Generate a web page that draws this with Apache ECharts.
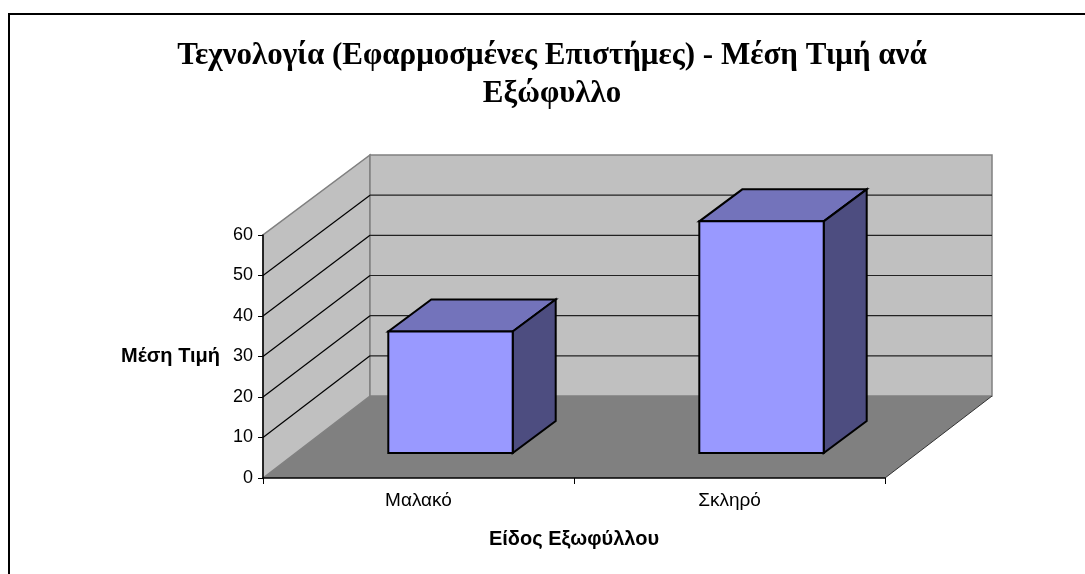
<!DOCTYPE html>
<html>
<head>
<meta charset="utf-8">
<title>Μέση Τιμή ανά Εξώφυλλο</title>
<script src="https://cdn.jsdelivr.net/npm/echarts@6/dist/echarts.min.js"></script>
<style>
  html, body { margin: 0; padding: 0; background: #fff; }
  #chart { width: 1085px; height: 574px; }
</style>
</head>
<body>
<div id="chart"></div>
<script>
// Data
const categories = ["Μαλακό", "Σκληρό"];
const avgPrice = [30, 57.2];
const yTicks = [10, 20, 30, 40, 50];
const chartTitle = "Τεχνολογία (Εφαρμοσμένες Επιστήμες) - Μέση Τιμή ανά\nΕξώφυλλο";
const yName = "Μέση Τιμή";
const xName = "Είδος Εξωφύλλου";

// Fake 3D box depth, in pixels
const wall_dx = 107;
const wall_dy_bottom = 82;
const wall_dy_top = 80;
const y_max = 60;
const bar_off_dx = 32;
const bar_off_dy = 25;
const bar_dx = 43;
const bar_dy = 32;

const c_wall = "#c0c0c0";
const c_floor = "#808080";
const c_front = "#9999ff";
const c_top = "#7373bb";
const c_side = "#4d4d80";

function poly(points, fill, stroke, width) {
  return {
    type: "polygon",
    shape: { points: points },
    style: { fill: fill, stroke: stroke, lineWidth: width, lineJoin: "miter" },
  };
}

function seg(x1, y1, x2, y2, color, width) {
  return {
    type: "line",
    shape: { x1: x1, y1: y1, x2: x2, y2: y2 },
    style: { stroke: color, lineWidth: width },
  };
}

// Back wall, side wall, floor and the gridlines on them
function renderWalls(params, api) {
  let g = params.coordSys;
  let l = g.x;
  let r = g.x + g.width;
  let t = g.y;
  let b = g.y + g.height;
  let back_b = b - wall_dy_bottom;
  let back_t = t - wall_dy_top;
  let kids = [
    poly([[l, b], [r, b], [r + wall_dx, back_b], [l + wall_dx, back_b]], c_floor, null, 0),
    poly([[l, b], [l, t], [l + wall_dx, back_t], [l + wall_dx, back_b]], c_wall, c_floor, 1.5),
    poly([[l + wall_dx, back_b], [l + wall_dx, back_t], [r + wall_dx, back_t], [r + wall_dx, back_b]], c_wall, c_floor, 1.5),
    seg(r, b, r + wall_dx, back_b, "#333", 1),
  ];
  yTicks.forEach(function (v) {
    let y = api.coord([0, v])[1];
    let back_y = back_b + (back_t - back_b) * (v / y_max);
    kids.push(seg(l, y, l + wall_dx, back_y, "#000", 1.2));
    kids.push(seg(l + wall_dx, back_y, r + wall_dx, back_y, "#222", 1.2));
  });
  return { type: "group", children: kids };
}

// One box per category
function renderBar(params, api) {
  let p = api.coord([api.value(0), api.value(1)]);
  let base = api.coord([api.value(0), 0]);
  let w = api.size([1, 0])[0] * 0.4;
  let l = p[0] - w / 2 + bar_off_dx;
  let r = l + w;
  let t = p[1] - bar_off_dy;
  let b = base[1] - bar_off_dy;
  return {
    type: "group",
    children: [
      poly([[l, t], [r, t], [r + bar_dx, t - bar_dy], [l + bar_dx, t - bar_dy]], c_top, "#000", 2),
      poly([[r, t], [r + bar_dx, t - bar_dy], [r + bar_dx, b - bar_dy], [r, b]], c_side, "#000", 2),
      poly([[l, t], [r, t], [r, b], [l, b]], c_front, "#000", 2),
    ],
  };
}

let myChart = echarts.init(document.getElementById("chart"), null, { renderer: "canvas" });

let option = {
  animation: false,
  backgroundColor: "#fff",
  title: {
    text: chartTitle,
    left: 547,
    top: 32,
    textAlign: "center",
    textStyle: {
      fontFamily: "Liberation Serif",
      fontWeight: "bold",
      fontSize: 31,
      lineHeight: 38,
      color: "#000",
    },
  },
  graphic: [
    {
      type: "rect",
      shape: { x: 9, y: 14, width: 1200, height: 700 },
      style: { fill: null, stroke: "#000", lineWidth: 2 },
      silent: true,
    },
  ],
  grid: { left: 263, top: 235, width: 622, height: 243 },
  xAxis: {
    type: "category",
    data: categories,
    z: 10,
    name: xName,
    nameLocation: "middle",
    nameGap: 51,
    nameTextStyle: { fontFamily: "Liberation Sans", fontWeight: "bold", fontSize: 20, color: "#000" },
    axisLine: { lineStyle: { color: "#000", width: 1.5 } },
    axisTick: { show: true, length: 6, lineStyle: { color: "#000", width: 1 } },
    axisLabel: { fontFamily: "Liberation Sans", fontSize: 19, color: "#000", margin: 13 },
  },
  yAxis: {
    type: "value",
    min: 0,
    max: y_max,
    interval: 10,
    z: 10,
    name: yName,
    nameLocation: "middle",
    nameRotate: 0,
    nameGap: 43,
    nameTextStyle: { fontFamily: "Liberation Sans", fontWeight: "bold", fontSize: 20, color: "#000", padding: [3, 0, 0, 0] },
    axisLine: { show: true, lineStyle: { color: "#000", width: 1.5 } },
    axisTick: { show: true, length: 5, lineStyle: { color: "#000", width: 1 } },
    axisLabel: { fontFamily: "Liberation Sans", fontSize: 18, color: "#000", margin: 10, padding: [3, 0, 0, 0] },
    splitLine: { show: false },
  },
  series: [
    {
      type: "custom",
      z: 1,
      coordinateSystem: "cartesian2d",
      silent: true,
      data: [[0, 0]],
      renderItem: renderWalls,
    },
    {
      type: "custom",
      z: 3,
      coordinateSystem: "cartesian2d",
      data: categories.map(function (c, i) {
        return [i, avgPrice[i]];
      }),
      encode: { x: 0, y: 1 },
      renderItem: renderBar,
    },
  ],
};

myChart.setOption(option);
</script>
</body>
</html>
